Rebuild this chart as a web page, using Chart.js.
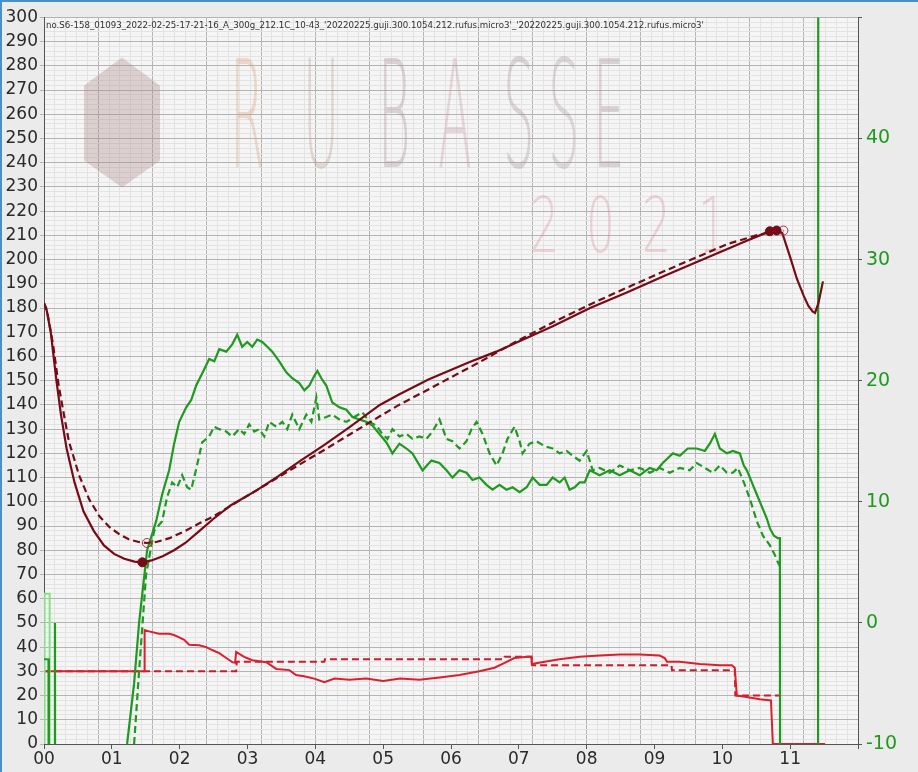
<!DOCTYPE html>
<html>
<head>
<meta charset="utf-8">
<script src="https://cdn.jsdelivr.net/npm/chart.js@4/dist/chart.umd.min.js"></script>
<style>
  html, body { margin: 0; padding: 0; background: #ebebeb; }
  #wrap { width: 918px; height: 772px; box-sizing: border-box; border-left: 2px solid #4a90c8; border-top: 2px solid #4a90c8; }
</style>
</head>
<body>
<div id="wrap"><canvas id="roast" width="916" height="770"></canvas></div>
<script>
// time in seconds
const titleText = "no.S6-158_01093_2022-02-25-17-21-16_A_300g_212.1C_10-43_'20220225.guji.300.1054.212.rufus.micro3'_'20220225.guji.300.1054.212.rufus.micro3'";
const minuteTicks = ['00', '01', '02', '03', '04', '05', '06', '07', '08', '09', '10', '11'];

// bean temperature (left axis)
const beanTemp = [[0,182],[2,180],[6,170],[11,150],[15,136],[20,122],[27,108],[35,96],[44,88],[53,82],[62,78.5],[71,76.5],[80,75.3],[87,75],[95,75.8],[105,77.5],[115,80],[125,83],[137,87.8],[150,93],[165,98.5],[188,104.7],[207,110.5],[226,116.7],[248,123.5],[270,130.7],[297,140],[314,144.3],[340,150.5],[376,157.6],[400,162],[419,166],[450,172.5],[483,180],[516,186.5],[550,193.5],[580,199.5],[605,204.5],[620,207.5],[632,209.8],[642,211.7],[649,212],[653,211],[660,201],[666,192],[672,185],[676,181],[680,178.5],[682,178],[685,182],[689,191]];
// background bean temperature (dashed)
const beanTempBg = [[0,182],[3,178],[8,165],[13,148],[18,135],[22,125],[31,111],[40,101],[49,94],[58,89.5],[67,86.5],[75,84.5],[83,83.5],[91,83],[100,83.5],[111,85],[125,88],[137,91],[150,94],[166,98.6],[190,105.3],[226,115.4],[250,122],[270,127.7],[297,135.3],[314,140],[340,146.4],[360,151.4],[385,157.6],[419,166.5],[450,174],[483,181.5],[516,188.5],[550,195.5],[580,201.5],[605,206.5],[630,210],[645,211.6],[654,212]];

// rate of rise (right axis)
const rateRise = [[0,-3],[4,-3],[4.3,-40],[9.4,-40],[9.7,0],[10,-40],[40,null],[73.5,-10],[79.7,-5],[84.1,0],[91.2,6],[99.2,8.4],[104.5,10.6],[110.7,12.6],[115.1,14.8],[119.6,16.6],[125.8,17.8],[130.2,18.4],[134.6,19.6],[139.9,20.6],[146.1,21.8],[150.6,21.6],[155,22.6],[161.2,22.4],[166.5,23],[170.9,23.8],[175.3,22.8],[179.8,23.2],[184.2,22.8],[188.6,23.4],[193.1,23.2],[197.5,22.8],[201.9,22.4],[208.1,21.6],[214.3,20.7],[219.6,20.2],[225.8,19.8],[230.3,19.2],[234.7,19.6],[239.1,20.4],[241.8,20.8],[245.3,20.2],[249.7,19.6],[255,18.2],[261.3,17.8],[267.5,17.6],[272.8,17],[279,16.8],[285.2,16.6],[290.5,16.3],[296.7,15.6],[302.9,14.9],[308.2,14],[314.4,14.8],[320.6,14.4],[325.9,14],[334.8,12.6],[342.7,13.4],[349.8,13.2],[356,12.6],[361.3,12],[367.5,12.6],[373.7,12.4],[379,11.8],[385.2,12],[391.4,11.4],[396.7,11],[402.9,11.4],[409.1,11],[414.5,11.2],[420.7,10.8],[426.9,11.2],[432.2,12],[438.4,11.4],[444.6,11.4],[449.9,12],[456.1,11.6],[460.5,12],[464.9,11],[469.4,11.2],[473.8,11.6],[478.2,11.6],[482.7,12.6],[491.5,12.2],[500.4,12.6],[509.2,12.2],[518.1,12.6],[526.9,12.2],[535.8,12.8],[542,12.6],[547.3,13.2],[551.7,13.6],[556.2,14],[562.4,13.8],[569.4,14.4],[577.4,14.4],[584.5,14.2],[588.9,14.8],[593.4,15.6],[597.8,14.4],[604,14],[609.3,14.2],[615.5,14],[619,13],[621.7,12.6],[626.1,11.6],[630.5,10.6],[635.9,9.4],[639.4,8.6],[642.1,7.8],[645.6,7.2],[649.1,7],[650.9,7],[651.3,-40],[684.6,-40],[685,120]];
// background rate of rise (dashed)
const rateRiseBg = [[79.7,-10],[84.1,-4],[90.3,4],[97.4,7.6],[104.5,8.4],[108.9,10.4],[113.4,11.6],[117.8,11.2],[122.2,12.2],[126.6,11.2],[130.2,11],[134.6,12.7],[139.9,14.9],[146.1,15.4],[150.6,16.2],[155,16],[161.2,15.8],[166.5,15.4],[172.7,16],[177.1,15.6],[181.5,16.4],[186,15.8],[190.4,16],[194.8,15.4],[199.3,16.6],[205.5,16.2],[210.8,16.6],[215.2,16],[219.6,17.2],[225.8,16],[232,17.2],[236.5,16.6],[240.9,18.6],[243.5,16.8],[249.7,17],[255,17.2],[261.3,16.8],[267.5,16.6],[274.5,17],[281.6,17.4],[287.8,16.6],[294,16.3],[299.3,15.6],[303.8,15.2],[308.2,16],[314.4,15.4],[320.6,15.6],[325.9,15.2],[332.1,15.4],[338.3,15.2],[343.6,15.8],[349.8,16.8],[356,15.2],[361.3,15],[367.5,14.4],[373.7,15],[378.2,16],[382.6,16.6],[387.9,15.6],[394.1,14],[400.3,13],[405.6,14],[410,15.2],[416.2,16.2],[420.7,15],[423.3,14],[429.5,14.8],[435.7,15],[442.8,14.6],[449.9,14.4],[456.1,14],[462.3,14.2],[467.6,13.8],[473.8,13.4],[480,14.2],[485.3,12.6],[491.5,12.8],[500.4,12.4],[509.2,13],[518.1,12.6],[526.9,12.8],[535.8,12.4],[544.6,12.8],[553.5,12.4],[562.4,12.8],[571.2,12.6],[577.4,13.2],[584.5,12.8],[591.6,12.4],[597.8,13],[604,12.4],[609.3,12.4],[613.7,12.8],[617.3,12],[619.9,11.4],[625.2,10],[630.5,8.4],[635.9,7.2],[642.1,6.4],[646.5,5.6],[649.1,5],[652.7,4.4]];
const rateRiseStart = [[0.5,-40],[0.5,2.4],[5,2.4],[5,-40]];

// heater power (left axis)
const heater = [[0,30],[88.6,30],[89,47],[93,46.5],[101.8,45.5],[110.7,45.5],[115,45],[119.6,44],[124,43],[128.4,41],[137.3,40.8],[143.5,40],[148.8,38.8],[155,37.5],[161.2,35.5],[166.5,33.8],[169,33.5],[170,38],[177,36],[184.2,34.6],[196.6,33.8],[205.5,31],[217,30.5],[223,28.5],[230,28],[239,27],[248,25.5],[257,27],[270,26.5],[285,27],[300,26],[315,27],[332,26.5],[350,27.5],[367.5,28.5],[385,30],[398.5,31.5],[407.4,33.5],[416,35.5],[427.7,36],[431,36],[431.5,33],[442.8,34],[456,35],[473.8,36],[491.5,36.5],[509.2,37],[527,37],[544.6,36.5],[549,35.5],[551,34],[562.4,34],[580,33],[597.8,32.5],[608.4,32.5],[611,31.5],[612.8,20],[620,19.5],[633.2,18.5],[643,18],[644.7,0],[690.8,0]];
const heaterBg = [[0,30],[170,30],[170.5,34],[248,34],[248.5,35],[407,35],[407.5,36],[431.3,36],[431.8,32.5],[555,32.5],[555.5,30.5],[611,30.5],[611.5,20],[651,20]];

// event markers
const eventsSolid = [[87,75],[642,211.7],[648,212]];
const eventsHollow = [[91,83],[654,212]];

const toXY = arr => arr.map(p => ({ x: p[0], y: p[1] }));

const maroon = '#760b17';
const green = '#1f991f';
const red = '#dc1f2e';
const font = '"DejaVu Sans", sans-serif';

const backdrop = {
  id: 'backdrop',
  beforeDraw(chart) {
    const { ctx, chartArea: a } = chart;
    ctx.save();
    ctx.fillStyle = '#ebebeb';
    ctx.fillRect(0, 0, chart.width, chart.height);
    ctx.fillStyle = '#f5f5f5';
    ctx.fillRect(a.left, a.top, a.right - a.left, a.bottom - a.top);
    ctx.restore();
  },
  beforeDatasetsDraw(chart) {
    const { ctx, chartArea: a } = chart;
    ctx.save();
    // faint watermark
    ctx.globalAlpha = 0.34;
    const letters = 'RUBASSE';
    const xs = [186, 259, 334, 394, 459, 504, 549];
    const tints = ['#d9a27c', '#b89a92', '#a89090', '#c39aa0', '#a89494', '#b09a9a', '#a89090'];
    ctx.font = '200 150px ' + font;
    ctx.textBaseline = 'alphabetic';
    letters.split('').forEach((ch, i) => {
      ctx.save();
      ctx.fillStyle = tints[i];
      ctx.translate(a.left + xs[i], a.top + 150);
      ctx.scale(0.33, 1);
      ctx.fillText(ch, 0, 0);
      ctx.restore();
    });
    ctx.fillStyle = '#d98f9c';
    ctx.font = '200 76px ' + font;
    ['2', '0', '2', '1'].forEach((ch, i) => {
      ctx.save();
      ctx.translate(a.left + 486 + i * 56, a.top + 235);
      ctx.scale(0.6, 1);
      ctx.fillText(ch, 0, 0);
      ctx.restore();
    });
    ctx.fillStyle = '#a98a86';
    ctx.beginPath();
    ctx.moveTo(a.left + 40, a.top + 68);
    ctx.lineTo(a.left + 78, a.top + 40);
    ctx.lineTo(a.left + 116, a.top + 68);
    ctx.lineTo(a.left + 116, a.top + 143);
    ctx.lineTo(a.left + 78, a.top + 170);
    ctx.lineTo(a.left + 40, a.top + 143);
    ctx.closePath();
    ctx.fill();
    ctx.globalAlpha = 1;
    // profile title
    ctx.fillStyle = '#333';
    ctx.font = '9px ' + font;
    ctx.textBaseline = 'top';
    const w = ctx.measureText(titleText).width;
    ctx.translate(a.left + 2, a.top + 4);
    ctx.scale(658 / w, 1);
    ctx.fillText(titleText, 0, 0);
    ctx.restore();
  }
};

const gridAxis = (axis, step, color, z, pos) => ({
  type: 'linear', axis, position: pos, z,
  min: axis === 'x' ? 0 : (pos === 'left' ? 0 : -10),
  max: axis === 'x' ? 720 : 300,
  ticks: { display: false, stepSize: step },
  border: { display: false },
  grid: { color, lineWidth: 1, drawTicks: false },
  afterFit(s) { if (axis === 'x') s.height = 0; else s.width = 0; }
});

new Chart(document.getElementById('roast'), {
  type: 'line',
  data: {
    datasets: [
      { data: toXY(eventsSolid), showLine: false, pointRadius: 4.5, pointBackgroundColor: maroon, pointBorderColor: maroon, yAxisID: 'y' },
      { data: toXY(eventsHollow), showLine: false, pointRadius: 4.5, pointBackgroundColor: 'rgba(0,0,0,0)', pointBorderColor: '#b0303c', pointBorderWidth: 1, yAxisID: 'y' },
      { data: toXY(beanTemp), borderColor: maroon, borderWidth: 2.2, yAxisID: 'y' },
      { data: toXY(beanTempBg), borderColor: maroon, borderWidth: 2.2, borderDash: [7, 4], yAxisID: 'y' },
      { data: toXY(rateRise), borderColor: green, borderWidth: 2.2, yAxisID: 'y2' },
      { data: toXY(rateRiseBg), borderColor: green, borderWidth: 2.2, borderDash: [7, 4], yAxisID: 'y2' },
      { data: toXY(rateRiseStart), borderColor: '#86e086', borderWidth: 2, yAxisID: 'y2' },
      { data: toXY(heater), borderColor: red, borderWidth: 2, yAxisID: 'y' },
      { data: toXY(heaterBg), borderColor: '#c81e2c', borderWidth: 2, borderDash: [7, 4], yAxisID: 'y' }
    ]
  },
  options: {
    responsive: false,
    animation: false,
    events: [],
    layout: { padding: { top: 13, right: 0, left: 0, bottom: 0 } },
    elements: { point: { radius: 0 }, line: { tension: 0 } },
    plugins: { legend: { display: false }, tooltip: { enabled: false } },
    scales: {
      xm: gridAxis('x', 9.6, '#e3e3e3', -3, 'bottom'),
      xg: gridAxis('x', 48, '#b4b4b4', -2, 'bottom'),
      ym: gridAxis('y', 2, '#e3e3e3', -3, 'left'),
      x: {
        type: 'linear', position: 'bottom', min: 0, max: 720,
        ticks: {
          stepSize: 60, color: '#2a2a2a', font: { family: font, size: 17 }, padding: 0, maxRotation: 0,
          callback: v => minuteTicks[v / 60] ?? ''
        },
        grid: { drawOnChartArea: false, tickLength: 5, color: '#555' },
        border: { color: '#555' },
        afterFit(s) { s.height = 28; }
      },
      y: {
        type: 'linear', position: 'left', min: 0, max: 300, z: -1,
        ticks: { stepSize: 10, color: '#2a2a2a', font: { family: font, size: 17 }, padding: 2 },
        grid: { color: '#b4b4b4', tickLength: 4 },
        border: { color: '#555' },
        afterFit(s) { s.width = 42; }
      },
      y2: {
        type: 'linear', position: 'right', min: -10, max: 50,
        ticks: {
          stepSize: 10, color: green, font: { family: font, size: 19 }, padding: 4,
          callback: v => v === 50 ? '' : v
        },
        grid: { drawOnChartArea: false, tickLength: 4, color: '#555' },
        border: { color: '#555' },
        afterFit(s) { s.width = 60; }
      }
    }
  },
  plugins: [backdrop]
});
</script>
</body>
</html>
